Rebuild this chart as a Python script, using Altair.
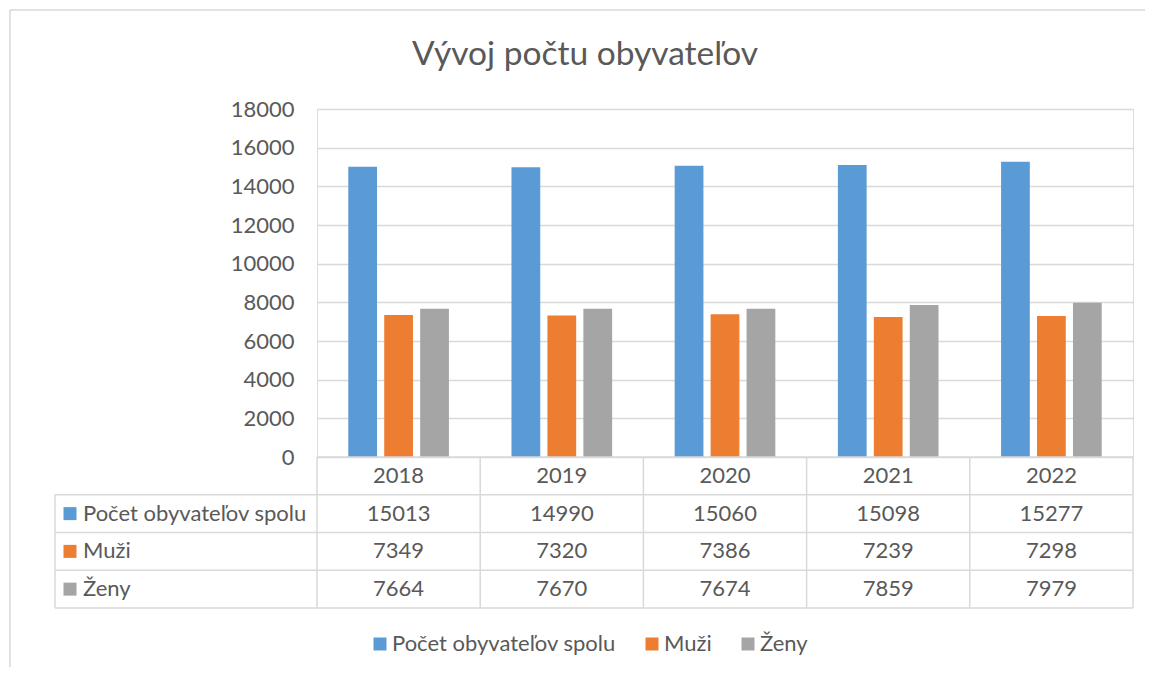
import altair as alt
import pandas as pd

# ---- data ----
years = ["2018", "2019", "2020", "2021", "2022"]
series = ["Počet obyvateľov spolu", "Muži", "Ženy"]
total = [15013, 14990, 15060, 15098, 15277]
muzi = [7349, 7320, 7386, 7239, 7298]
zeny = [7664, 7670, 7674, 7859, 7979]
y_ticks = [0, 2000, 4000, 6000, 8000, 10000, 12000, 14000, 16000, 18000]
title_text = "Vývoj počtu obyvateľov"

# ---- style ----
colors = ["#5B9BD5", "#ED7D31", "#A5A5A5"]
FONT = "Lato"
TXT = "#595959"
GRID = "#D9D9D9"
FS = 22

W = 816          # plot width (year columns)
H = 348          # bar area height
LEFTCOL = 262    # table label column width (px)
TABLE_H = 151    # table height
L = LEFTCOL / (W / len(years))   # label column width in column units

values_by_series = [total, muzi, zeny]

bars_df = pd.DataFrame(
    [{"year": y, "series": s, "value": v[i]}
     for s, v in zip(series, values_by_series) for i, y in enumerate(years)]
)

# table cells: header row (years) + one row per series
cells = []
for i, y in enumerate(years):
    cells.append({"cx": i + 0.5, "cy": 0.5, "txt": y})
for r, (s, v) in enumerate(zip(series, values_by_series)):
    for i in range(len(years)):
        cells.append({"cx": i + 0.5, "cy": r + 1.5, "txt": str(v[i])})
cells_df = pd.DataFrame(cells)

labels_df = pd.DataFrame(
    [{"lx": -L, "cy": r + 1.5, "series": s} for r, s in enumerate(series)]
)

nrows = len(series) + 1
ncols = len(years)
segs = [{"x": 0, "x2": ncols, "y": 0, "y2": 0}]
for r in range(1, nrows + 1):
    segs.append({"x": -L, "x2": ncols, "y": r, "y2": r})
segs.append({"x": -L, "x2": -L, "y": 1, "y2": nrows})
for c in range(0, ncols + 1):
    segs.append({"x": c, "x2": c, "y": 0, "y2": nrows})
segs_df = pd.DataFrame(segs)

tx = alt.Scale(domain=[-L, ncols], range=[-LEFTCOL, W])
ty = alt.Scale(domain=[0, nrows], range=[H, H + TABLE_H])

color_scale = alt.Scale(domain=series, range=colors)
legend = alt.Legend(
    orient="none", legendX=52, legendY=H + 176, direction="horizontal",
    title=None, symbolType="square", symbolSize=169, symbolStrokeWidth=0,
    labelFont=FONT, labelFontSize=FS, labelColor=TXT, labelLimit=400,
    columnPadding=25, labelOffset=1,
)

# outer chart-area frame (only top and left edges fall inside the window)
frame_top = alt.Chart(alt.Data(values=[{"a": 1}])).mark_rule(
    color=GRID, strokeWidth=1.5
).encode(x=alt.value(-307), x2=alt.value(1500), y=alt.value(-99))
frame_left = alt.Chart(alt.Data(values=[{"a": 1}])).mark_rule(
    color=GRID, strokeWidth=1.5
).encode(x=alt.value(-307), y=alt.value(-99), y2=alt.value(900))

bars = alt.Chart(bars_df).mark_bar().encode(
    x=alt.X("year:N", scale=alt.Scale(domain=years, paddingInner=0, paddingOuter=0), axis=None),
    xOffset=alt.XOffset("series:N", scale=alt.Scale(domain=series, paddingInner=0.2, paddingOuter=0.87)),
    y=alt.Y("value:Q", scale=alt.Scale(domain=[0, 18000], nice=False),
            axis=alt.Axis(values=y_ticks, format="d", title=None, domain=False, ticks=False,
                          labelPadding=23, labelFont=FONT, labelFontSize=FS,
                          labelColor=TXT, grid=True, gridColor=GRID, gridWidth=1.5)),
    color=alt.Color("series:N", scale=color_scale, legend=legend),
)

borders = alt.Chart(segs_df).mark_rule(color=GRID, strokeWidth=1.5).encode(
    x=alt.X("x:Q", scale=tx, axis=None), x2="x2:Q",
    y=alt.Y("y:Q", scale=ty, axis=None), y2="y2:Q",
)

cell_text = alt.Chart(cells_df).mark_text(
    font=FONT, fontSize=FS, color=TXT, align="center", baseline="middle"
).encode(
    x=alt.X("cx:Q", scale=tx, axis=None),
    y=alt.Y("cy:Q", scale=ty, axis=None),
    text="txt:N",
)

row_labels = alt.Chart(labels_df).mark_text(
    font=FONT, fontSize=FS, color=TXT, align="left", baseline="middle", dx=28
).encode(
    x=alt.X("lx:Q", scale=tx, axis=None),
    y=alt.Y("cy:Q", scale=ty, axis=None),
    text="series:N",
)

row_squares = alt.Chart(labels_df).mark_square(size=169, opacity=1, xOffset=15).encode(
    x=alt.X("lx:Q", scale=tx, axis=None),
    y=alt.Y("cy:Q", scale=ty, axis=None),
    color=alt.Color("series:N", scale=color_scale, legend=legend),
)

chart = alt.layer(frame_top, frame_left, bars, borders, cell_text, row_labels, row_squares).resolve_scale(
    x="independent", y="independent"
).properties(
    width=W, height=H,
    autosize=alt.AutoSizeParams(type="none"),
    padding={"left": 309, "top": 101, "right": 12, "bottom": 210},
    title=alt.Title(title_text, font=FONT, fontSize=33.5, fontWeight="normal",
                    color=TXT, anchor="middle", dx=-140, offset=-89, baseline="alphabetic"),
).configure_view(stroke=None).configure(background="white")

chart.save("out.html", embed_options={"renderer": "svg", "actions": False})
